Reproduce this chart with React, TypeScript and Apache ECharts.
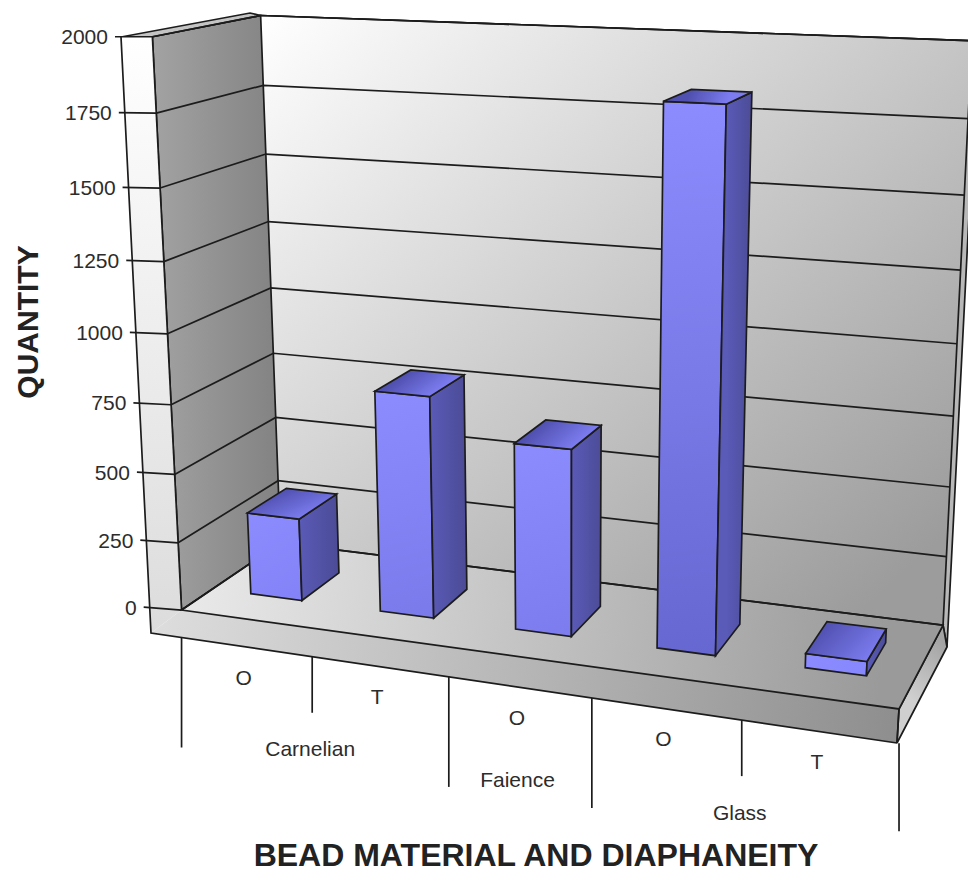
import React, { useEffect, useRef } from "react";
import * as echarts from "echarts";

const W = 968;
const H = 873;

const yTicks = [0, 250, 500, 750, 1000, 1250, 1500, 1750, 2000];
const diaphaneity = ["O", "T", "O", "O", "T"];
const barValues = [305, 800, 665, 1835, 50];
const materials = ["Carnelian", "Faience", "Glass"];
const materialSpans = [1, 2.5, 4]; // category position of each group's centre
const separators = [0, 1, 2, 3, 4, 5];
const separatorLengths = [110, 56, 110, 110, 56, 88];

// Perspective of the plot box, fitted to its visible corners
const boxCorners: number[][] = [
  [0, 0, 0, 181, 608],
  [0, 1, 0, 281, 545],
  [1, 1, 0, 943, 623],
  [1, 0, 0, 899, 711],
  [0, 0, 1, 153, 37],
  [0, 1, 1, 260, 15],
  [1, 1, 1, 972, 41],
];

function fitCamera(pts: number[][]): number[] {
  const n = 11;
  const A: number[][] = Array.from({ length: n }, () => new Array(n + 1).fill(0));
  const add = (r: number[], b: number) => {
    for (let i = 0; i < n; i++) {
      for (let j = 0; j < n; j++) A[i][j] += r[i] * r[j];
      A[i][n] += r[i] * b;
    }
  };
  pts.forEach(([X, Y, Z, px, py]) => {
    const u = px / 1000;
    const v = py / 1000;
    add([X, Y, Z, 1, 0, 0, 0, 0, -u * X, -u * Y, -u * Z], u);
    add([0, 0, 0, 0, X, Y, Z, 1, -v * X, -v * Y, -v * Z], v);
  });
  for (let c = 0; c < n; c++) {
    let piv = c;
    for (let r = c + 1; r < n; r++) if (Math.abs(A[r][c]) > Math.abs(A[piv][c])) piv = r;
    [A[c], A[piv]] = [A[piv], A[c]];
    for (let r = 0; r < n; r++) {
      if (r === c) continue;
      const f = A[r][c] / A[c][c];
      for (let k = c; k <= n; k++) A[r][k] -= f * A[c][k];
    }
  }
  return A.map((row, i) => row[n] / row[i]);
}

const cam = fitCamera(boxCorners);
function project(x: number, y: number, z: number): number[] {
  const w = cam[8] * x + cam[9] * y + cam[10] * z + 1;
  return [
    (1000 * (cam[0] * x + cam[1] * y + cam[2] * z + cam[3])) / w,
    (1000 * (cam[4] * x + cam[5] * y + cam[6] * z + cam[7])) / w,
  ];
}

const LINE = "#1c1c1c";
const LW = 1.7;
const FONT = '"Liberation Sans", Arial, sans-serif';
const TEXT = "#2c2c2c";

const grad = (x: number, y: number, x2: number, y2: number, a: string, b: string) =>
  new echarts.graphic.LinearGradient(x, y, x2, y2, [
    { offset: 0, color: a },
    { offset: 1, color: b },
  ], true);

const poly = (points: number[][], fill: any, stroke: any = LINE, lw = LW) => ({
  type: "polygon",
  silent: true,
  shape: { points },
  style: { fill, stroke, lineWidth: lw },
});
const pline = (points: number[][], lw = LW) => ({
  type: "polyline",
  silent: true,
  shape: { points },
  style: { fill: "none", stroke: LINE, lineWidth: lw },
});
const text = (s: string, x: number, y: number, size: number, align = "center") => ({
  type: "text",
  silent: true,
  style: {
    text: s,
    x,
    y,
    fill: TEXT,
    font: `normal ${size}px ${FONT}`,
    align,
    verticalAlign: "middle",
    textAlign: align,
    textVerticalAlign: "middle",
  },
});

// Fixed outline of the box that lies outside the unit cube
const outerTop = [121, 37];
const outerBottom = [151, 633];
const slabRightBottom = [897, 743];
const slabRightOuter = [947, 647];
const outerX = (y: number) => outerTop[0] + ((y - outerTop[1]) * (outerBottom[0] - outerTop[0])) / (outerBottom[1] - outerTop[1]);
const slabEdgeY = (x: number) => outerBottom[1] + ((x - outerBottom[0]) * (slabRightBottom[1] - outerBottom[1])) / (slabRightBottom[0] - outerBottom[0]);

function renderShell() {
  const f00 = project(0, 0, 0);
  const f01 = project(0, 1, 0);
  const f11 = project(1, 1, 0);
  const f10 = project(1, 0, 0);
  const t00 = project(0, 0, 1);
  const t01 = project(0, 1, 1);
  const t11 = project(1, 1, 1);
  return {
    type: "group",
    children: [
      poly([t01, t11, [t11[0] + 6, t11[1]], slabRightOuter, f11], "#b8b8b8", LINE),
      poly([t01, t11, f11, f01], grad(262, 15, 830, 640, "#ffffff", "#9c9c9c"), "none"),
      pline([t01, t11, f11]),
      poly([t00, t01, f01, f00], grad(155, 0, 280, 0, "#a2a2a2", "#828282"), LINE),
      poly([outerTop, t00, t01, [250, 13]], "#c4c4c4", LINE),
      poly([outerTop, t00, f00, outerBottom], grad(0, 37, 0, 633, "#ffffff", "#dcdcdc"), "none"),
      poly([outerBottom, f00, f10, slabRightBottom], grad(150, 600, 900, 720, "#dedede", "#8e8e8e"), "none"),
      poly([f10, f11, slabRightOuter, slabRightBottom], grad(940, 640, 900, 690, "#a4a4a4", "#cfcfcf"), LINE),
      poly([f00, f01, f11, f10], grad(200, 590, 880, 690, "#e8e8e8", "#9a9a9a"), LINE),
      pline([outerTop, outerBottom, slabRightBottom]),
      pline([t00, f00]),
      pline([f10, slabRightBottom]),
    ],
  };
}

function renderTick(_: any, api: any) {
  const v = api.value(1);
  const py = api.coord([0, v])[1];
  const z = (H - py) / H;
  const a = project(0, 0, z);
  const b = project(0, 1, z);
  const c = project(1, 1, z);
  const leftY = a[1] - 3 * (1 - z);
  const leftX = outerX(leftY) - 6;
  return {
    type: "group",
    children: [
      pline([a, b, c]),
      pline([[leftX, leftY], a]),
      text(String(v), leftX - 7, leftY, 21, "right"),
    ],
  };
}

function renderBar(_: any, api: any) {
  const i = api.value(0);
  const v = api.value(1);
  const [px, py] = api.coord([i, v]);
  const u0 = px / W + 0.3 / 5;
  const u1 = u0 + 0.4 / 5;
  const z = (H - py) / H;
  const d0 = 0.3;
  const d1 = 0.7;
  const fb0 = project(u0, d0, 0);
  const fb1 = project(u1, d0, 0);
  const bb1 = project(u1, d1, 0);
  const ft0 = project(u0, d0, z);
  const ft1 = project(u1, d0, z);
  const bt1 = project(u1, d1, z);
  const bt0 = project(u0, d1, z);
  const t = v / 2000;
  const low = `rgb(${Math.round(136 - 36 * t)},${Math.round(136 - 36 * t)},${Math.round(255 - 50 * t)})`;
  return {
    type: "group",
    children: [
      poly([ft0, ft1, fb1, fb0], grad(ft0[0], ft0[1], fb1[0], fb1[1], "#8c8cff", low)),
      poly([ft1, bt1, bb1, fb1], grad(ft1[0], 0, bt1[0], 0, "#5a5ab8", "#4c4c98")),
      poly([ft0, bt0, bt1, ft1], grad(bt0[0], bt0[1], ft1[0], ft1[1], "#5050b0", "#7c7cf0")),
    ],
  };
}

function renderCategory(_: any, api: any) {
  const i = api.value(0);
  const px = api.coord([i + 0.5, 0])[0];
  const p = project(px / W, 0, 0);
  return text(diaphaneity[i], p[0] - 2.5, slabEdgeY(p[0]) + 30, 21);
}

function renderMaterial(_: any, api: any) {
  const i = api.value(0);
  const px = api.coord([materialSpans[i], 0])[0];
  const p = project(px / W, 0, 0);
  return text(materials[i], p[0] - 2, slabEdgeY(p[0]) + 92, 21);
}

function renderSeparator(_: any, api: any) {
  const i = api.value(0);
  const px = api.coord([separators[i], 0])[0];
  const p = project(px / W, 0, 0);
  const y0 = slabEdgeY(p[0]);
  return pline([[p[0], y0], [p[0], y0 + separatorLengths[i]]]);
}

const custom = (renderItem: any, data: number[][]) => ({
  type: "custom",
  coordinateSystem: "cartesian2d",
  renderItem,
  data,
  silent: true,
  clip: false,
});

export default function App() {
  const ref = useRef<HTMLDivElement>(null);
  useEffect(() => {
    document.body.style.margin = "0";
    const chart = echarts.init(ref.current!, undefined, { renderer: "svg" });
    chart.setOption({
      animation: false,
      backgroundColor: "#ffffff",
      grid: { left: 0, right: 0, top: 0, bottom: 0 },
      xAxis: { type: "value", min: 0, max: 5, show: false },
      yAxis: { type: "value", min: 0, max: 2000, show: false },
      series: [
        custom(renderShell, [[0, 0]]),
        custom(renderTick, yTicks.map((v) => [0, v])),
        custom(renderBar, barValues.map((v, i) => [i, v])),
        custom(renderSeparator, separators.map((_, i) => [i, 0])),
        custom(renderCategory, diaphaneity.map((_, i) => [i, 0])),
        custom(renderMaterial, materials.map((_, i) => [i, 0])),
      ],
      graphic: [
        {
          type: "text",
          silent: true,
          x: 27,
          y: 322,
          rotation: Math.PI / 2,
          style: {
            text: "QUANTITY",
            fill: "#222222",
            font: `bold 30px ${FONT}`,
            align: "center",
            verticalAlign: "middle",
            textAlign: "center",
            textVerticalAlign: "middle",
          },
        },
        {
          type: "text",
          silent: true,
          x: 536,
          y: 855,
          style: {
            text: "BEAD MATERIAL AND DIAPHANEITY",
            fill: "#222222",
            font: `bold 32px ${FONT}`,
            align: "center",
            verticalAlign: "middle",
            textAlign: "center",
            textVerticalAlign: "middle",
          },
        },
      ],
    });
    return () => chart.dispose();
  }, []);
  return <div ref={ref} style={{ width: W, height: H }} />;
}
